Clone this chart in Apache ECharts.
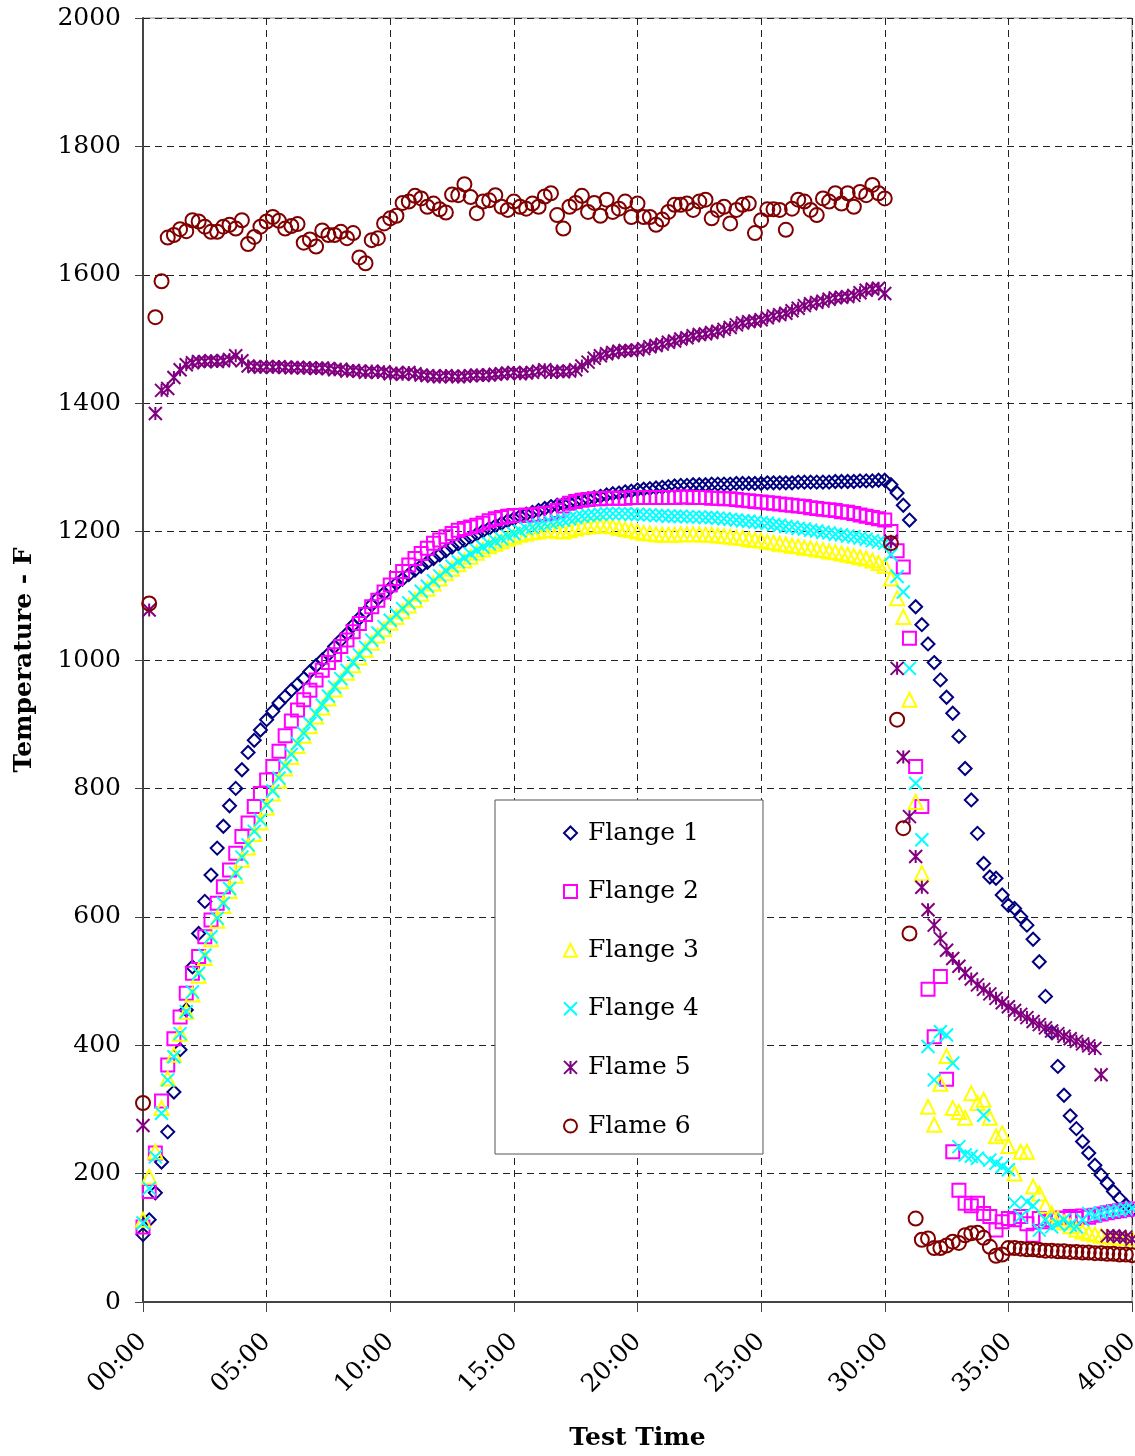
<!DOCTYPE html>
<html>
<head>
<meta charset="utf-8">
<script src="https://cdn.jsdelivr.net/npm/echarts@6/dist/echarts.min.js"></script>
<style>
html,body{margin:0;padding:0;background:#fff;}
#chart{width:1135px;height:1456px;}
</style>
</head>
<body>
<div id="chart"></div>
<script>
// Sampling: one reading every 15 s (0.25 min), 00:00 to 40:00
const sampleStepMin = 0.25;
const seriesNames = ['Flange 1','Flange 2','Flange 3','Flange 4','Flame 5','Flame 6'];
const xTickLabels = ['00:00','05:00','10:00','15:00','20:00','25:00','30:00','35:00','40:00'];
const yTicks = [0,200,400,600,800,1000,1200,1400,1600,1800,2000];

const flange1 = [105,128,170,218,265,327,393,455,522,574,624,665,707,741,773,800,829,856,875,891,907,920,933,943,953,962,971,982,991,1000,1009,1021,1031,1041,1054,1065,1075,1086,1096,1104,1112,1119,1126,1133,1140,1146,1152,1158,1164,1170,1176,1181,1186,1191,1196,1201,1205,1209,1213,1217,1220,1224,1227,1230,1233,1236,1239,1241,1243,1245,1247,1249,1251,1253,1255,1257,1259,1260,1262,1263,1265,1266,1267,1268,1269,1270,1271,1272,1272,1273,1273,1273,1274,1274,1274,1274,1275,1275,1275,1275,1275,1276,1276,1276,1276,1276,1277,1277,1277,1277,1277,1277,1278,1278,1278,1278,1279,1279,1279,1280,1280,1273,1260,1241,1218,1083,1055,1025,996,969,942,917,881,831,782,730,683,662,660,634,618,613,600,587,565,530,476,420,367,322,290,270,250,232,213,198,185,172,161,151,143];

const flange2 = [117,172,232,313,369,410,444,481,512,538,569,595,621,647,673,699,725,746,772,792,813,834,858,882,905,922,938,953,969,984,996,1008,1021,1031,1044,1057,1071,1083,1093,1106,1117,1127,1138,1148,1158,1166,1174,1182,1187,1192,1197,1202,1205,1207,1210,1213,1217,1220,1222,1224,1225,1225,1226,1226,1227,1228,1229,1233,1240,1244,1247,1249,1250,1251,1251,1252,1252,1252,1252,1253,1253,1253,1253,1253,1253,1253,1253,1254,1254,1253,1253,1253,1252,1252,1251,1251,1250,1249,1248,1247,1246,1245,1244,1243,1242,1241,1240,1239,1237,1236,1235,1234,1233,1231,1230,1228,1226,1224,1222,1220,1218,1200,1170,1145,1034,834,772,487,413,507,347,234,174,154,150,154,138,133,112,125,130,128,133,122,104,130,125,128,131,130,133,130,134,132,135,137,139,141,142,144,145];

const flange3 = [128,195,234,302,348,385,418,452,479,508,536,565,594,617,640,664,689,708,729,747,770,792,812,831,849,866,882,897,912,926,940,954,967,980,992,1004,1016,1027,1038,1048,1058,1067,1076,1085,1094,1103,1111,1119,1127,1135,1142,1149,1155,1161,1167,1172,1177,1181,1185,1189,1192,1195,1197,1199,1200,1202,1203,1201,1200,1202,1205,1207,1208,1209,1210,1209,1208,1206,1204,1202,1200,1198,1197,1196,1195,1195,1195,1196,1196,1196,1196,1195,1195,1194,1193,1192,1191,1190,1188,1187,1186,1184,1183,1181,1180,1178,1177,1175,1174,1172,1171,1169,1168,1166,1164,1162,1160,1158,1155,1151,1147,1127,1096,1067,938,779,668,304,276,340,383,302,296,287,325,310,315,287,258,263,243,200,234,234,180,169,150,138,130,124,118,113,110,107,105,103,102,101,100,100,99];

const flange4 = [123,177,226,294,346,382,418,452,483,512,540,569,598,621,644,668,693,712,733,751,774,796,816,835,853,870,886,901,916,930,944,958,971,984,996,1008,1020,1031,1042,1052,1062,1071,1080,1089,1098,1107,1115,1123,1131,1139,1146,1153,1159,1165,1171,1176,1181,1185,1189,1193,1197,1201,1205,1207,1210,1212,1214,1216,1218,1220,1222,1224,1225,1226,1227,1228,1228,1228,1228,1227,1227,1226,1226,1225,1225,1224,1224,1224,1223,1223,1223,1222,1222,1221,1220,1219,1218,1217,1216,1215,1214,1213,1211,1210,1208,1207,1205,1204,1202,1201,1199,1198,1196,1195,1193,1192,1190,1188,1186,1184,1182,1164,1130,1106,987,808,720,398,346,421,416,372,242,229,227,224,291,221,216,211,206,154,133,156,150,112,128,117,122,128,120,117,128,138,135,138,140,142,143,145,146];

const flame5 = [275,1078,1384,1420,1423,1440,1452,1460,1463,1465,1465,1466,1465,1466,1468,1474,1466,1458,1457,1456,1457,1456,1457,1456,1455,1456,1455,1455,1454,1455,1454,1452,1453,1450,1451,1450,1448,1450,1448,1449,1446,1447,1445,1448,1446,1444,1443,1442,1441,1443,1442,1441,1442,1443,1444,1443,1444,1445,1446,1447,1448,1446,1447,1448,1450,1452,1448,1450,1449,1450,1452,1458,1464,1470,1474,1477,1479,1481,1482,1482,1483,1485,1488,1490,1492,1495,1497,1500,1502,1505,1507,1508,1510,1512,1515,1518,1522,1525,1527,1528,1530,1533,1536,1538,1540,1544,1548,1552,1555,1557,1559,1562,1564,1565,1566,1568,1572,1576,1578,1579,1571,1185,987,849,756,694,646,611,587,566,548,535,523,512,503,494,487,480,473,466,460,454,448,443,437,432,427,422,418,414,410,406,402,399,395,354,103,103,102,101,98];

const flame6 = [310,1088,1534,1590,1658,1662,1671,1668,1685,1683,1675,1667,1667,1675,1678,1672,1685,1648,1659,1675,1683,1690,1684,1672,1676,1679,1650,1655,1644,1669,1662,1662,1667,1657,1665,1627,1618,1654,1657,1680,1688,1692,1712,1714,1723,1719,1706,1711,1702,1697,1725,1724,1741,1721,1696,1714,1716,1724,1706,1701,1714,1706,1703,1711,1706,1722,1727,1693,1672,1706,1712,1723,1698,1712,1692,1717,1698,1703,1714,1690,1711,1690,1690,1678,1686,1698,1709,1709,1711,1701,1714,1717,1688,1701,1706,1680,1701,1709,1711,1665,1685,1702,1702,1701,1670,1703,1717,1714,1701,1693,1719,1714,1727,1711,1727,1706,1729,1724,1740,1727,1719,1182,907,738,574,130,97,99,84,84,88,94,92,104,107,108,100,86,72,74,84,84,83,82,82,81,80,80,79,79,78,78,77,77,76,76,75,75,74,74,73];

const seriesValues = [flange1, flange2, flange3, flange4, flame5, flame6];
const seriesColors = ['#000080','#FF00FF','#FFFF00','#00FFFF','#800080','#800000'];
const seriesSymbols = ['diamond','rect','triangle','path://M0,0L10,10M10,0L0,10','path://M0,0L10,10M10,0L0,10M5,0L5,10','circle'];
const seriesSymbolSizes = [13,13,14,13,13,14];

const FONT = 'DejaVu Serif';
const chart = echarts.init(document.getElementById('chart'), null, {renderer:'canvas'});

const series = seriesValues.map((vals, k) => ({
  name: seriesNames[k],
  type: 'scatter',
  symbol: seriesSymbols[k],
  symbolSize: seriesSymbolSizes[k],
  itemStyle: { color: 'rgba(0,0,0,0)', borderColor: seriesColors[k], borderWidth: 2, opacity: 1 },
  emphasis: { disabled: true },
  data: vals.map((v, i) => [i * sampleStepMin, v]),
  z: 2 + k
}));

chart.setOption({
  animation: false,
  backgroundColor: '#fff',
  grid: { left: 143, right: 3, top: 18, bottom: 154, containLabel: false, outerBoundsMode: 'none',
          show: true, borderColor: '#888', borderWidth: 1, backgroundColor: 'transparent' },
  xAxis: {
    type: 'value', min: 0, max: 40, interval: 5,
    name: 'Test Time', nameLocation: 'middle', nameGap: 124,
    nameTextStyle: { fontFamily: FONT, fontSize: 25, fontWeight: 'bold', color: '#000' },
    axisLine: { show: true, onZero: false, lineStyle: { color: '#444', width: 2 } },
    axisTick: { show: true, length: 10, inside: false, lineStyle: { color: '#444', width: 1 } },
    axisLabel: { rotate: 45, margin: 36, fontFamily: FONT, fontSize: 25, color: '#000',
      formatter: v => xTickLabels[Math.round(v / 5)] },
    splitLine: { show: true, lineStyle: { color: '#222', type: [7, 5], width: 1 } }
  },
  yAxis: {
    type: 'value', min: 0, max: 2000, interval: 200,
    name: 'Temperature - F', nameLocation: 'middle', nameGap: 106, nameRotate: 90,
    nameTextStyle: { fontFamily: FONT, fontSize: 25, fontWeight: 'bold', color: '#000' },
    axisLine: { show: true, lineStyle: { color: '#444', width: 2 } },
    axisTick: { show: true, length: 8, inside: false, lineStyle: { color: '#444', width: 1 } },
    axisLabel: { margin: 22, fontFamily: FONT, fontSize: 25, color: '#000',
      formatter: v => (yTicks.indexOf(v) >= 0 ? String(v) : '') },
    splitLine: { show: true, lineStyle: { color: '#222', type: [7, 5], width: 1 } }
  },
  legend: {
    orient: 'vertical', left: 495, top: 800,
    padding: [18, 64, 13, 68], itemGap: 28.6, itemWidth: 13, itemHeight: 13,
    symbolKeepAspect: true,
    backgroundColor: '#fff', borderColor: '#555', borderWidth: 1,
    textStyle: { fontFamily: FONT, fontSize: 25, color: '#000', lineHeight: 30, padding: [0, 0, 0, 6] },
    data: seriesNames,
    selectedMode: false
  },
  series: series
});
</script>
</body>
</html>
